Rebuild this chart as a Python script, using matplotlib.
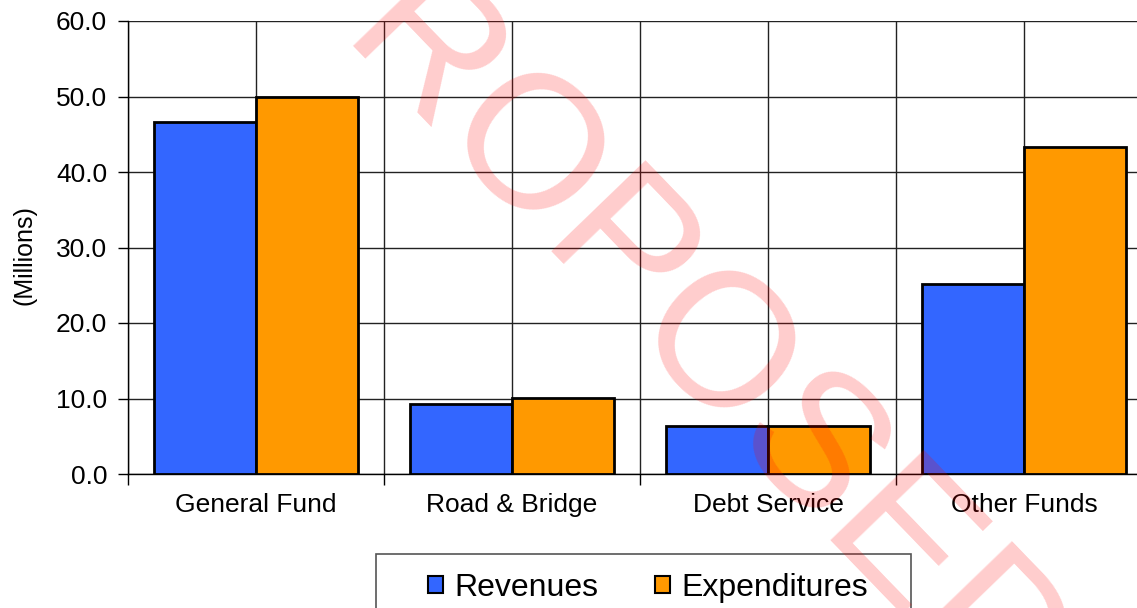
import numpy as np
import matplotlib
matplotlib.use('Agg')
import matplotlib.pyplot as plt
from matplotlib.patches import Rectangle

plt.rcParams['font.family'] = ['Liberation Sans', 'DejaVu Sans']

# data (millions)
categories = ['General Fund', 'Road & Bridge', 'Debt Service', 'Other Funds']
revenues = [46.6, 9.3, 6.4, 25.2]
expenditures = [49.9, 10.1, 6.4, 43.3]
yticks = [0, 10, 20, 30, 40, 50, 60]

W, H = 1137, 608
fig = plt.figure(figsize=(W/100, H/100), dpi=100)
# plot area runs past the right edge (reference is cropped there)
ax = fig.add_axes([128/W, 1-474/H, 1024/W, 453/H])

x = np.arange(len(categories))
bw = 0.4
ax.bar(x-bw/2, revenues, bw, color='#3366ff', edgecolor='black', linewidth=2, zorder=3, label='Revenues')
ax.bar(x+bw/2, expenditures, bw, color='#ff9900', edgecolor='black', linewidth=2, zorder=3, label='Expenditures')

ax.set_xlim(-0.5, len(categories)-0.5)
ax.set_ylim(0, 60)
ax.set_yticks(yticks)
ax.set_yticklabels(['%.1f' % v for v in yticks], fontsize=19)

# boundaries = major ticks (marks below axis), centers = labels
ax.set_xticks(np.arange(len(categories)+1)-0.5)
ax.set_xticklabels([])
ax.set_xticks(x, minor=True)
ax.set_xticklabels(categories, minor=True, fontsize=19)
ax.tick_params(axis='x', which='major', direction='out', length=8, width=1, color='black')
ax.tick_params(axis='x', which='minor', length=0, pad=14)
ax.tick_params(axis='y', direction='out', length=7, width=1, pad=8)

ax.grid(True, which='both', axis='x', color='#222222', linewidth=1, zorder=0)
ax.grid(True, which='major', axis='y', color='#222222', linewidth=1, zorder=0)
ax.set_axisbelow(True)
for s in ['top', 'right']:
    ax.spines[s].set_visible(False)
ax.spines['left'].set_linewidth(1)
ax.spines['bottom'].set_linewidth(1)

fig.text(24/W, 1-255/H, '(Millions)', rotation=90, fontsize=18, ha='center', va='center')

# legend with its own frame
fig.patches.append(Rectangle((376/W, 1-614/H), 535/W, 60/H, transform=fig.transFigure,
                             facecolor='white', edgecolor='#555555', linewidth=1.2, zorder=5))
leg = fig.legend(loc='center', bbox_to_anchor=(648/W, 1-588/H), ncol=2, frameon=False,
                 fontsize=23, handlelength=0.45, handleheight=0.45, handletextpad=0.35,
                 columnspacing=1.8, borderpad=0)
for h in leg.legend_handles:
    h.set_linewidth(1.5)
leg.set_zorder(6)

# watermark
fig.text(659/W, 1-308/H, 'PROPOSED', fontsize=137, color='red', alpha=0.2,
         rotation=-46, ha='center', va='center', zorder=10)

fig.savefig('out.png', dpi=100)
